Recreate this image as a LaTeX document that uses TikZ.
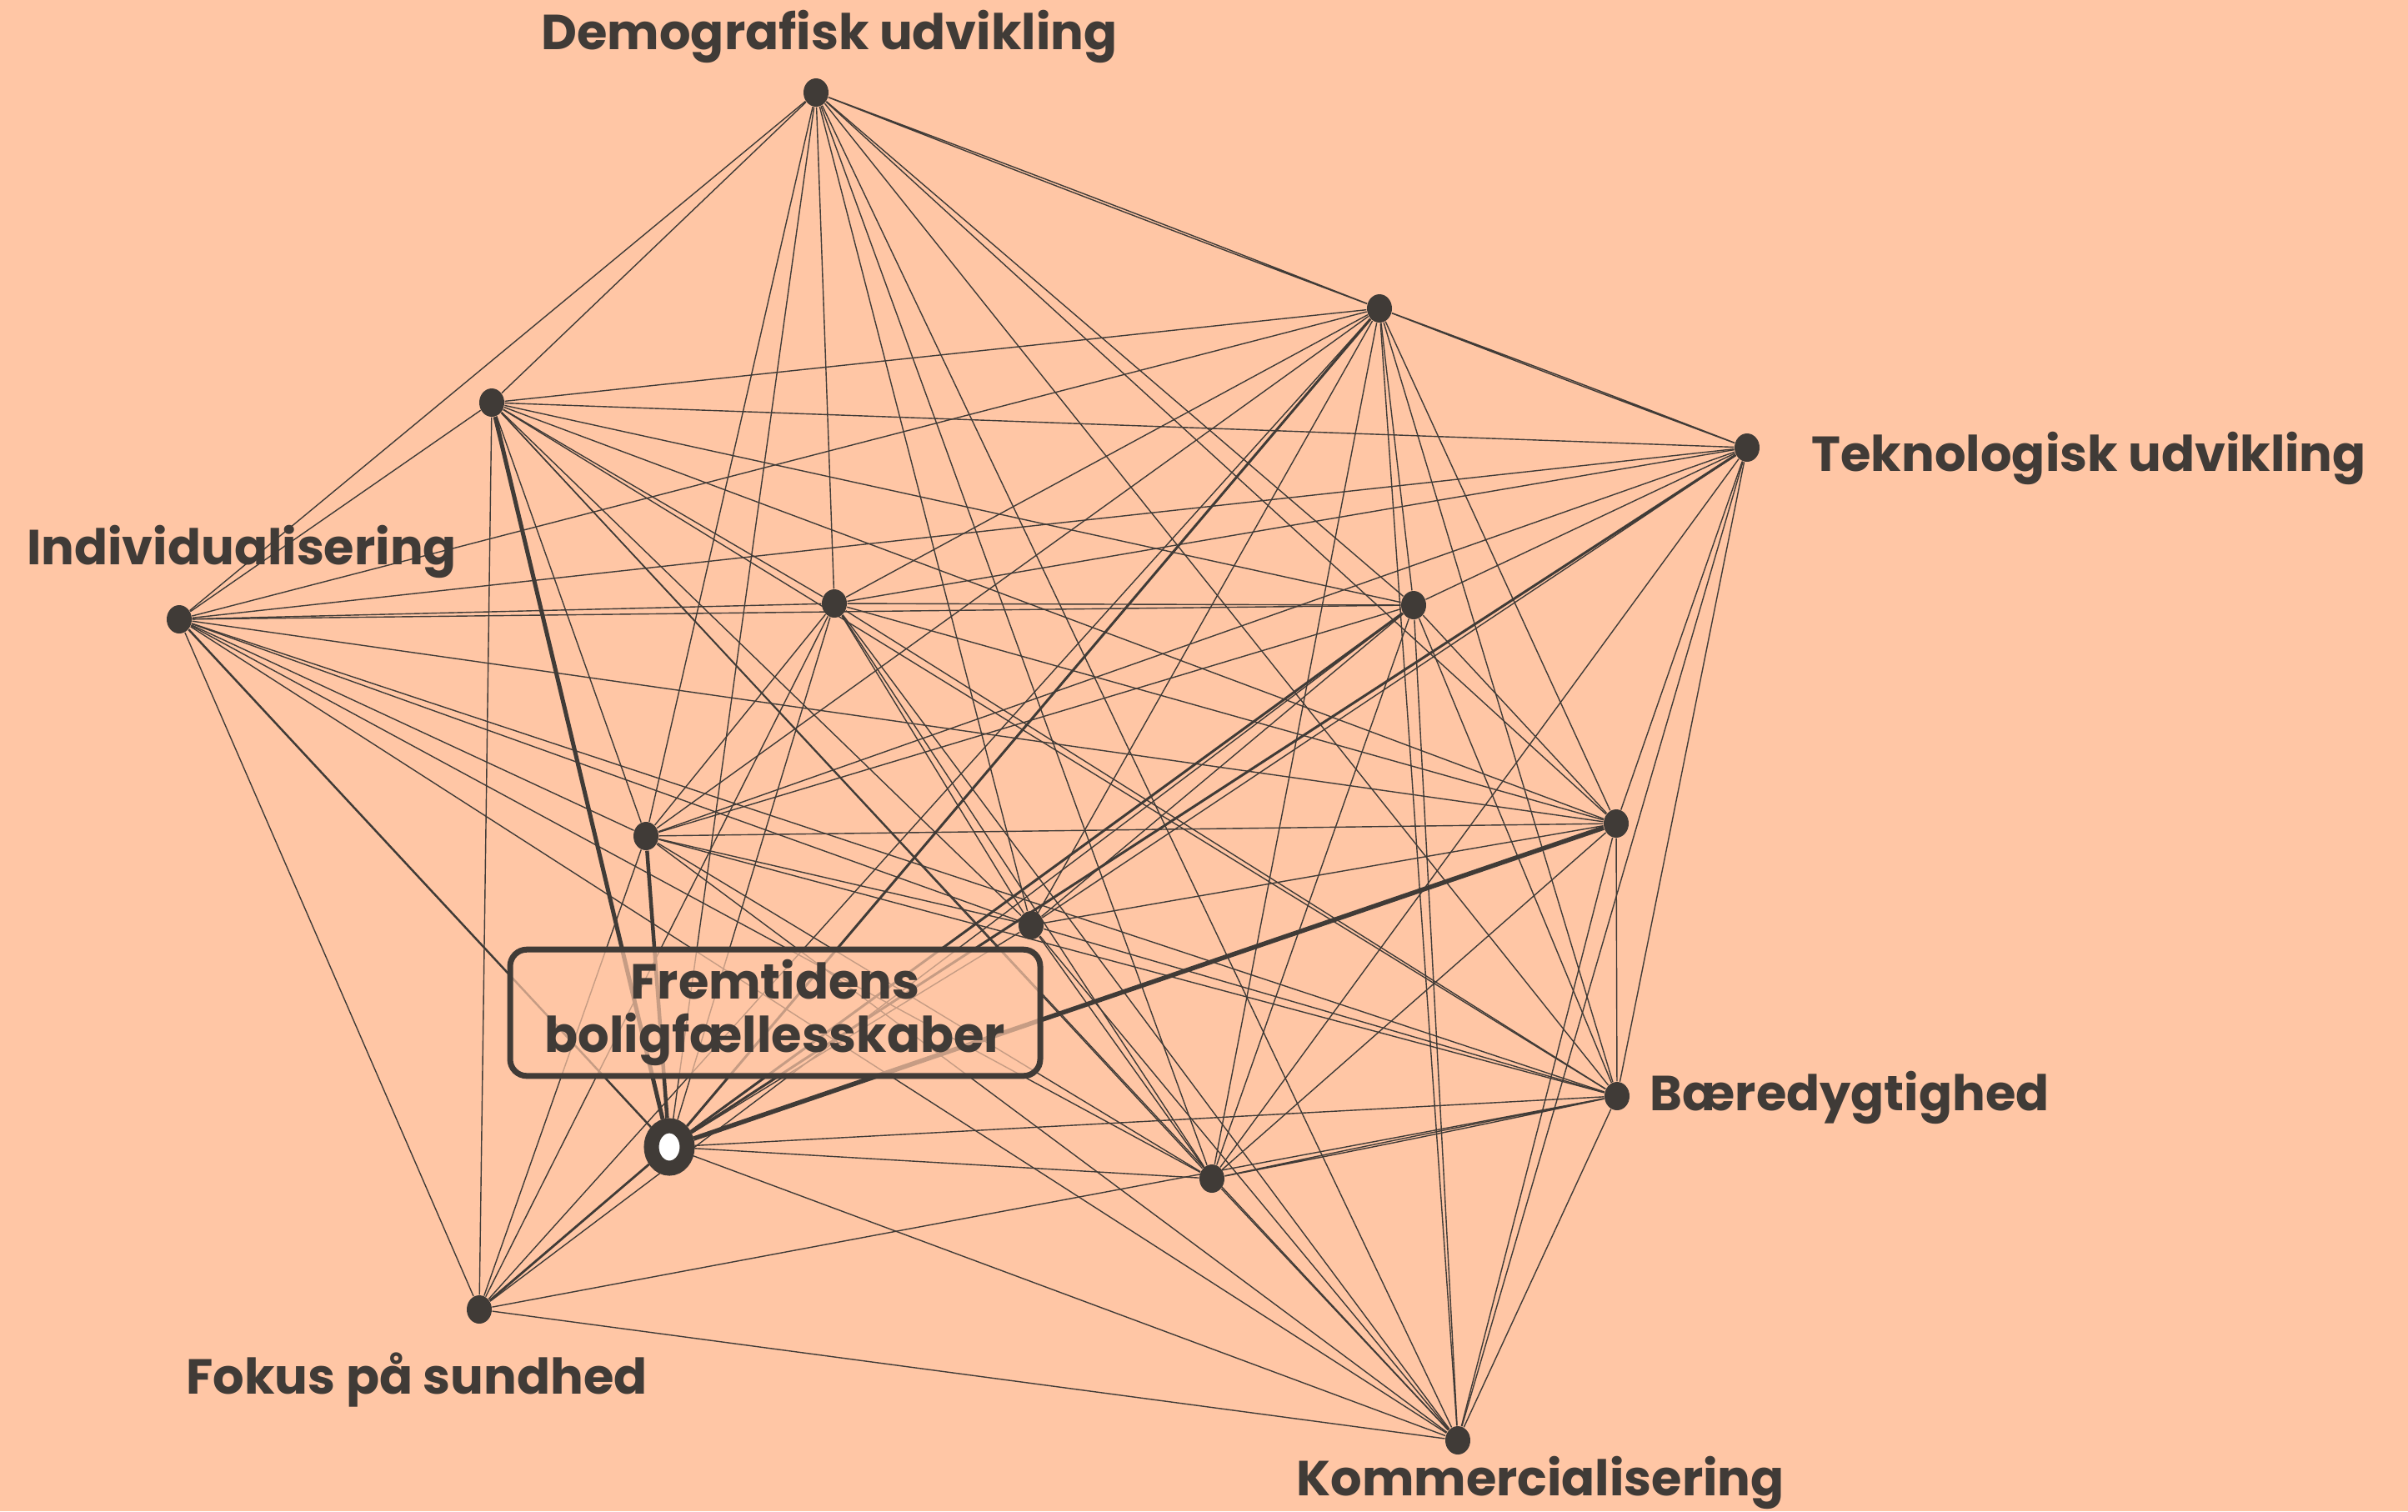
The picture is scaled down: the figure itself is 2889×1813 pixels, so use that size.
\documentclass[tikz,border=0pt]{standalone}
\usepackage{fontspec}
\setmainfont{Poppins}
\usetikzlibrary{shapes.geometric,backgrounds}
\definecolor{peach}{HTML}{FFC6A5}
\definecolor{ink}{HTML}{403B37}

\begin{document}
\begin{tikzpicture}[
  x=0.1mm, y=-0.1mm,
  font=\fontsize{16.8}{18.4}\selectfont\bfseries,
  dot/.style={ellipse, fill=ink, inner sep=0pt, minimum width=3mm, minimum height=3.4mm},
  link/.style={draw=ink, line width=0.14mm},
  strong/.style={draw=ink, line width=#1},
  tag/.style={text=ink, inner sep=0pt, anchor=base},
]
\useasboundingbox (0,0) rectangle (2889,1813);

% ---- themes (labelled) ----
\node[dot] (dem)  at (979,111)   {};
\node[dot] (tek)  at (2096,537)  {};
\node[dot] (ind)  at (215,743)   {};
\node[dot] (baer) at (1940,1315) {};
\node[dot] (fok)  at (575,1571)  {};
\node[dot] (kom)  at (1749,1728) {};

% ---- unlabelled points ----
\node[dot] (A) at (1655,370)  {};
\node[dot] (B) at (590,483)   {};
\node[dot] (C) at (1001,724)  {};
\node[dot] (D) at (1696,726)  {};
\node[dot] (E) at (775,1003)  {};
\node[dot] (F) at (1939,988)  {};
\node[dot] (G) at (1237,1110) {};
\node[dot] (H) at (1454,1414) {};

% ---- hub ----
\node[ellipse, draw=ink, fill=white, line width=1.8mm, inner sep=0pt,
      minimum width=4.3mm, minimum height=5.1mm] (hub) at (803,1376) {};
\node[draw=ink, line width=0.7mm, rounded corners=2mm, fill=peach, fill opacity=0.7,
      text opacity=1, text=ink, align=center, minimum width=63.6mm,
      minimum height=13.4mm] (box) at (930,1215) {Fremtidens\\boligfællesskaber};

% ---- labels ----
\node[tag] (demlbl) at (995,59) {Demografisk udvikling};
\node[tag] (indlbl) at (290,677) {Individualisering};
\node[tag, anchor=base west] (teklbl) at (2173,565) {Teknologisk udvikling};
\node[tag, anchor=base west] (baerlbl) at (1979,1332) {Bæredygtighed};
\node[tag] (foklbl) at (500,1672) {Fokus på sundhed};
\node[tag] (komlbl) at (1848,1794) {Kommercialisering};

% ---- links ----
\begin{scope}[on background layer]
  \fill[peach] (0,0) rectangle (2889,1813);
  \draw[link] (dem) to[bend left=0.4] (A) (dem) to[bend right=0.4] (A);
  \draw[link] (A) to[bend left=0.4] (tek) (A) to[bend right=0.4] (tek);
  \draw[link] (baer) to[bend left=0.5] (H) (baer) to[bend right=0.5] (H);
  \foreach \b in {B,ind,C,D,E,F,G,baer,H,kom} \draw[link] (dem) -- (\b);
  \foreach \b in {B,ind,C,D,E,F,G,baer,H,fok,kom} \draw[link] (A) -- (\b);
  \foreach \b in {B,ind,C,D,E,F,G,baer,H,kom} \draw[link] (tek) -- (\b);
  \foreach \b in {ind,C,D,E,F,G,baer,H,fok,kom} \draw[link] (B) -- (\b);
  \foreach \b in {C,D,E,F,G,baer,H,fok,kom} \draw[link] (ind) -- (\b);
  \foreach \b in {D,E,F,G,baer,H,fok,kom} \draw[link] (C) -- (\b);
  \foreach \b in {E,F,G,baer,H,fok,kom} \draw[link] (D) -- (\b);
  \foreach \b in {F,G,baer,H,fok,kom} \draw[link] (E) -- (\b);
  \foreach \b in {G,baer,H,kom} \draw[link] (F) -- (\b);
  \foreach \b in {baer,H,kom} \draw[link] (G) -- (\b);
  \foreach \b in {fok,kom} \draw[link] (baer) -- (\b);
  \draw[link] (H) -- (kom);
  \draw[link] (fok) -- (kom);
  \foreach \b in {dem,C,G,baer,H,kom} \draw[link] (hub) -- (\b);
  \draw[strong=0.5mm] (hub) -- (B);
  \draw[strong=0.45mm] (hub) -- (E);
  \draw[strong=0.55mm] (hub) -- (F);
  \draw[strong=0.3mm] (hub) -- (A);
  \draw[strong=0.3mm] (hub) -- (D);
  \draw[strong=0.3mm] (hub) -- (tek);
  \draw[strong=0.25mm] (hub) -- (ind);
  \draw[strong=0.28mm] (hub) -- (fok);
\end{scope}
\end{tikzpicture}
\end{document}
